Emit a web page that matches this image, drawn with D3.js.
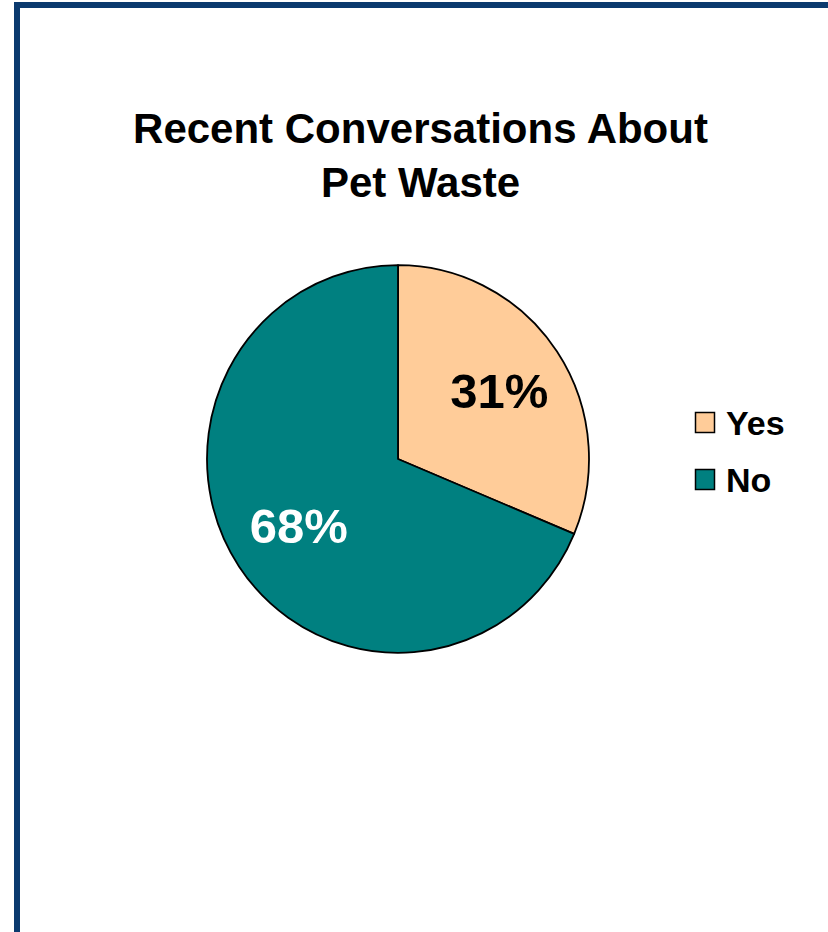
<!DOCTYPE html>
<html>
<head>
<meta charset="utf-8">
<script src="https://cdn.jsdelivr.net/npm/d3@7"></script>
<style>
  html, body { margin: 0; padding: 0; background: #fff; }
  svg { display: block; }
</style>
</head>
<body>
<svg id="chart" width="828" height="932"></svg>
<script>
// Survey answers: share of respondents
const categories = ["Yes", "No"];
const values = [31, 68];
const labels = ["31%", "68%"];
const titleLines = ["Recent Conversations About", "Pet Waste"];

const colors = d3.scaleOrdinal().domain(categories).range(["#FFCC99", "#008080"]);
const labelColors = d3.scaleOrdinal().domain(categories).range(["#000000", "#ffffff"]);

const svg = d3.select("#chart");
const font = "'Liberation Sans', Arial, Helvetica, sans-serif";

// Frame: navy bars along the top and left edges
svg.append("rect").attr("x", 14).attr("y", 2).attr("width", 840).attr("height", 6).attr("fill", "#0b3a6e");
svg.append("rect").attr("x", 14).attr("y", 2).attr("width", 6).attr("height", 960).attr("fill", "#0b3a6e");

// Title
svg.append("g").selectAll("text")
  .data(titleLines)
  .join("text")
  .attr("x", 420.5)
  .attr("y", (d, i) => 143 + i * 54)
  .attr("text-anchor", "middle")
  .attr("font-family", font)
  .attr("font-weight", "bold")
  .attr("font-size", 42)
  .attr("fill", "#000")
  .text(d => d);

// Pie
const cx = 398, cy = 459, r = 191;
const pie = d3.pie().sort(null).value(d => d.value);
const arcs = pie(categories.map((c, i) => ({ cat: c, value: values[i], label: labels[i] })));
const arc = d3.arc().innerRadius(0).outerRadius(r);

const g = svg.append("g").attr("transform", `translate(${cx},${cy}) scale(1,1.015)`);
g.selectAll("path")
  .data(arcs)
  .join("path")
  .attr("d", arc)
  .attr("fill", d => colors(d.data.cat))
  .attr("stroke", "#000")
  .attr("stroke-width", 1.8)
  .attr("stroke-linejoin", "round");

// Percentage labels placed inside each slice
const labelArc = d3.arc().innerRadius(r * 0.63).outerRadius(r * 0.63);
svg.append("g").selectAll("text")
  .data(arcs)
  .join("text")
  .attr("x", d => cx + labelArc.centroid(d)[0] + 1)
  .attr("y", d => cy + labelArc.centroid(d)[1] * 1.015)
  .attr("dy", "0.34em")
  .attr("text-anchor", "middle")
  .attr("font-family", font)
  .attr("font-weight", "bold")
  .attr("font-size", 49)
  .attr("fill", d => labelColors(d.data.cat))
  .text(d => d.data.label);

// Legend
const legend = svg.append("g").attr("transform", "translate(695,412)");
const item = legend.selectAll("g")
  .data(categories)
  .join("g")
  .attr("transform", (d, i) => `translate(0,${i * 57})`);
item.append("rect")
  .attr("x", 0.5).attr("y", 0.5)
  .attr("width", 19).attr("height", 20)
  .attr("fill", d => colors(d))
  .attr("stroke", "#000")
  .attr("stroke-width", 1.5);
item.append("text")
  .attr("x", 31)
  .attr("y", 23)
  .attr("font-family", font)
  .attr("font-weight", "bold")
  .attr("font-size", 34)
  .attr("fill", "#000")
  .text(d => d);
</script>
</body>
</html>
